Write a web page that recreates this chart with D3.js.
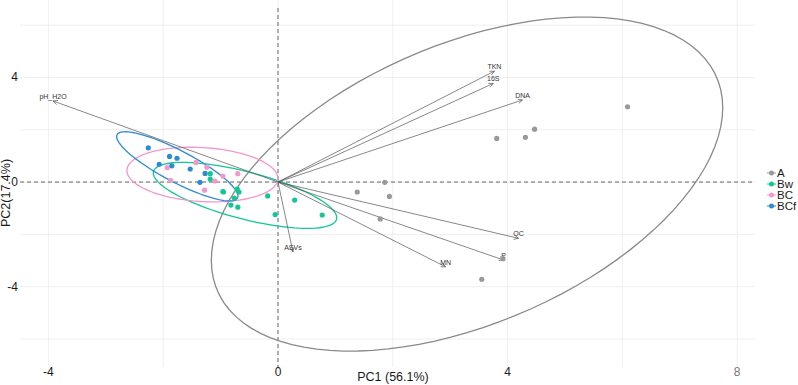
<!DOCTYPE html>
<html>
<head>
<meta charset="utf-8">
<script src="https://cdn.jsdelivr.net/npm/d3@7"></script>
<style>
  body { margin: 0; background: #fff; }
  text { font-family: "Liberation Sans", Arial, sans-serif; }
</style>
</head>
<body>
<div id="chart"></div>
<script>
// dimensions de la fenêtre
const width = 798;
const height = 385;

// groupes et couleurs
const groups = ["A", "Bw", "BC", "BCf"];
const groupColors = ["#999999", "#12c795", "#f497cb", "#2d8ccf"];

// scores des individus (PC1, PC2)
const pointsA = [[3.81, 1.67], [4.31, 1.71], [4.47, 2.02], [6.09, 2.88], [1.86, -0.01],
  [1.38, -0.38], [1.94, -0.55], [1.78, -1.41], [3.55, -3.72], [3.92, -2.93]];
const pointsBw = [[-1.18, 0.32], [-1.18, 0.11], [-0.96, -0.36], [-0.95, -0.38], [-0.71, -0.27],
  [-0.68, -0.38], [-0.76, -0.61], [-0.82, -0.88], [-0.70, -0.96], [-0.18, -0.53],
  [0.29, -0.69], [-0.05, -1.24], [0.77, -1.26]];
const pointsBC = [[-1.93, 0.55], [-1.43, 0.75], [-1.24, 0.57], [-1.87, 0.07], [-1.10, 0.04],
  [-0.96, 0.23], [-0.70, 0.32], [-1.28, -0.31]];
const pointsBCf = [[-2.26, 1.31], [-1.89, 0.98], [-1.76, 0.91], [-2.07, 0.68], [-1.85, 0.62],
  [-1.53, 0.50], [-1.27, 0.33], [-1.36, -0.01]];

// ellipses : centre x, centre y, demi-étendue x, demi-étendue y, corrélation
const ellipseA = [3.293, -0.076, 4.455, 6.386, 0.457];
const ellipseBw = [-0.575, -0.509, 1.598, 1.262, -0.677];
const ellipseBC = [-1.317, 0.287, 1.315, 1.044, -0.146];
const ellipseBCf = [-1.754, 0.600, 1.057, 1.323, -0.86];

// variables (flèches)
const varNames = ["pH_H2O", "TKN", "16S", "DNA", "OC", "P", "MN", "ASVs"];
const varX = [-3.92, 3.77, 3.75, 4.26, 4.19, 3.93, 2.92, 0.26];
const varY = [3.10, 4.24, 3.77, 3.14, -2.15, -2.98, -3.24, -2.67];

// graduations
const xTicks = [-4, 0, 4, 8];
const yTicks = [-4, 0, 4];
const xGrid = [-4, -2, 0, 2, 4, 6, 8];
const yGrid = [-6, -4, -2, 0, 2, 4, 6];

const allPoints = [pointsA, pointsBw, pointsBC, pointsBCf];
const allEllipses = [ellipseA, ellipseBw, ellipseBC, ellipseBCf];

const panel = { left: 20, right: 755, top: 0, bottom: 367 };

const x = d3.scaleLinear().domain([-4.495, 8.31]).range([panel.left, panel.right]);
const y = d3.scaleLinear().domain([-7.07, 6.96]).range([panel.bottom, panel.top]);

const svg = d3.select("#chart").append("svg")
    .attr("width", width)
    .attr("height", height);

// grille
svg.append("g").selectAll("line")
    .data(xGrid)
    .join("line")
    .attr("x1", d => x(d)).attr("x2", d => x(d))
    .attr("y1", panel.top).attr("y2", panel.bottom)
    .attr("stroke", "#ebebeb").attr("stroke-width", 0.8);

svg.append("g").selectAll("line")
    .data(yGrid)
    .join("line")
    .attr("x1", panel.left).attr("x2", panel.right)
    .attr("y1", d => y(d)).attr("y2", d => y(d))
    .attr("stroke", "#ebebeb").attr("stroke-width", 0.8);

// lignes de référence en pointillés
svg.append("line")
    .attr("x1", panel.left).attr("x2", panel.right)
    .attr("y1", y(0)).attr("y2", y(0))
    .attr("stroke", "#444").attr("stroke-width", 0.8)
    .attr("stroke-dasharray", "4,3");
svg.append("line")
    .attr("x1", x(0)).attr("x2", x(0))
    .attr("y1", 8).attr("y2", panel.bottom)
    .attr("stroke", "#444").attr("stroke-width", 0.8)
    .attr("stroke-dasharray", "4,3");

// ellipses
function ellipsePath(e) {
  const [cx, cy, rx, ry, rho] = e;
  const pts = d3.range(0, 101).map(i => {
    const t = i / 100 * 2 * Math.PI;
    const vx = cx + rx * Math.cos(t);
    const vy = cy + ry * (rho * Math.cos(t) + Math.sqrt(1 - rho * rho) * Math.sin(t));
    return [x(vx), y(vy)];
  });
  return d3.line()(pts) + "Z";
}

svg.append("g").selectAll("path")
    .data(allEllipses)
    .join("path")
    .attr("d", d => ellipsePath(d))
    .attr("fill", "none")
    .attr("stroke", (d, i) => i === 0 ? "#8a8a8a" : groupColors[i])
    .attr("stroke-width", 1.3);

// flèches des variables
const arrows = svg.append("g");
varNames.forEach((name, i) => {
  const x0 = x(0), y0 = y(0);
  const x1 = x(varX[i]), y1 = y(varY[i]);
  arrows.append("line")
      .attr("x1", x0).attr("y1", y0)
      .attr("x2", x1).attr("y2", y1)
      .attr("stroke", "#555").attr("stroke-width", 0.7);
  const ang = Math.atan2(y1 - y0, x1 - x0);
  const len = 5, spread = Math.PI / 7;
  const head = [
    [x1 - len * Math.cos(ang - spread), y1 - len * Math.sin(ang - spread)],
    [x1, y1],
    [x1 - len * Math.cos(ang + spread), y1 - len * Math.sin(ang + spread)]
  ];
  arrows.append("path")
      .attr("d", d3.line()(head))
      .attr("fill", "none")
      .attr("stroke", "#555").attr("stroke-width", 0.7);
  arrows.append("text")
      .attr("x", x1).attr("y", y1 - 2)
      .attr("text-anchor", "middle")
      .attr("font-size", 7)
      .attr("fill", "#333")
      .text(name);
});

// points
allPoints.forEach((pts, gi) => {
  svg.append("g").selectAll("circle")
      .data(pts)
      .join("circle")
      .attr("cx", d => x(d[0]))
      .attr("cy", d => y(d[1]))
      .attr("r", 2.6)
      .attr("fill", groupColors[gi]);
});

// étiquettes des axes
svg.append("g").selectAll("text")
    .data(xTicks)
    .join("text")
    .attr("x", d => x(d))
    .attr("y", 376)
    .attr("text-anchor", "middle")
    .attr("font-size", 12)
    .attr("fill", d => d === 8 ? "#777" : "#1a1a1a")
    .text(d => d);

svg.append("g").selectAll("text")
    .data(yTicks)
    .join("text")
    .attr("x", 18)
    .attr("y", d => y(d) + 4)
    .attr("text-anchor", "end")
    .attr("font-size", 12)
    .attr("fill", "#1a1a1a")
    .text(d => d);

svg.append("text")
    .attr("x", 393).attr("y", 381)
    .attr("text-anchor", "middle")
    .attr("font-size", 12.5)
    .attr("fill", "#1a1a1a")
    .text("PC1 (56.1%)");

svg.append("text")
    .attr("transform", "translate(10,193) rotate(-90)")
    .attr("text-anchor", "middle")
    .attr("font-size", 12.5)
    .attr("fill", "#1a1a1a")
    .text("PC2(17.4%)");

// légende
const legend = svg.append("g").attr("transform", "translate(767,173)");
const item = legend.selectAll("g")
    .data(groups)
    .join("g")
    .attr("transform", (d, i) => `translate(0,${i * 11})`);
item.append("line")
    .attr("x1", 0).attr("x2", 9)
    .attr("stroke", (d, i) => groupColors[i]).attr("stroke-width", 1);
item.append("circle")
    .attr("cx", 4.5).attr("r", 2.5)
    .attr("fill", (d, i) => groupColors[i]);
item.append("text")
    .attr("x", 10).attr("y", 4)
    .attr("font-size", 11.5)
    .attr("fill", "#1a1a1a")
    .text(d => d);
</script>
</body>
</html>
